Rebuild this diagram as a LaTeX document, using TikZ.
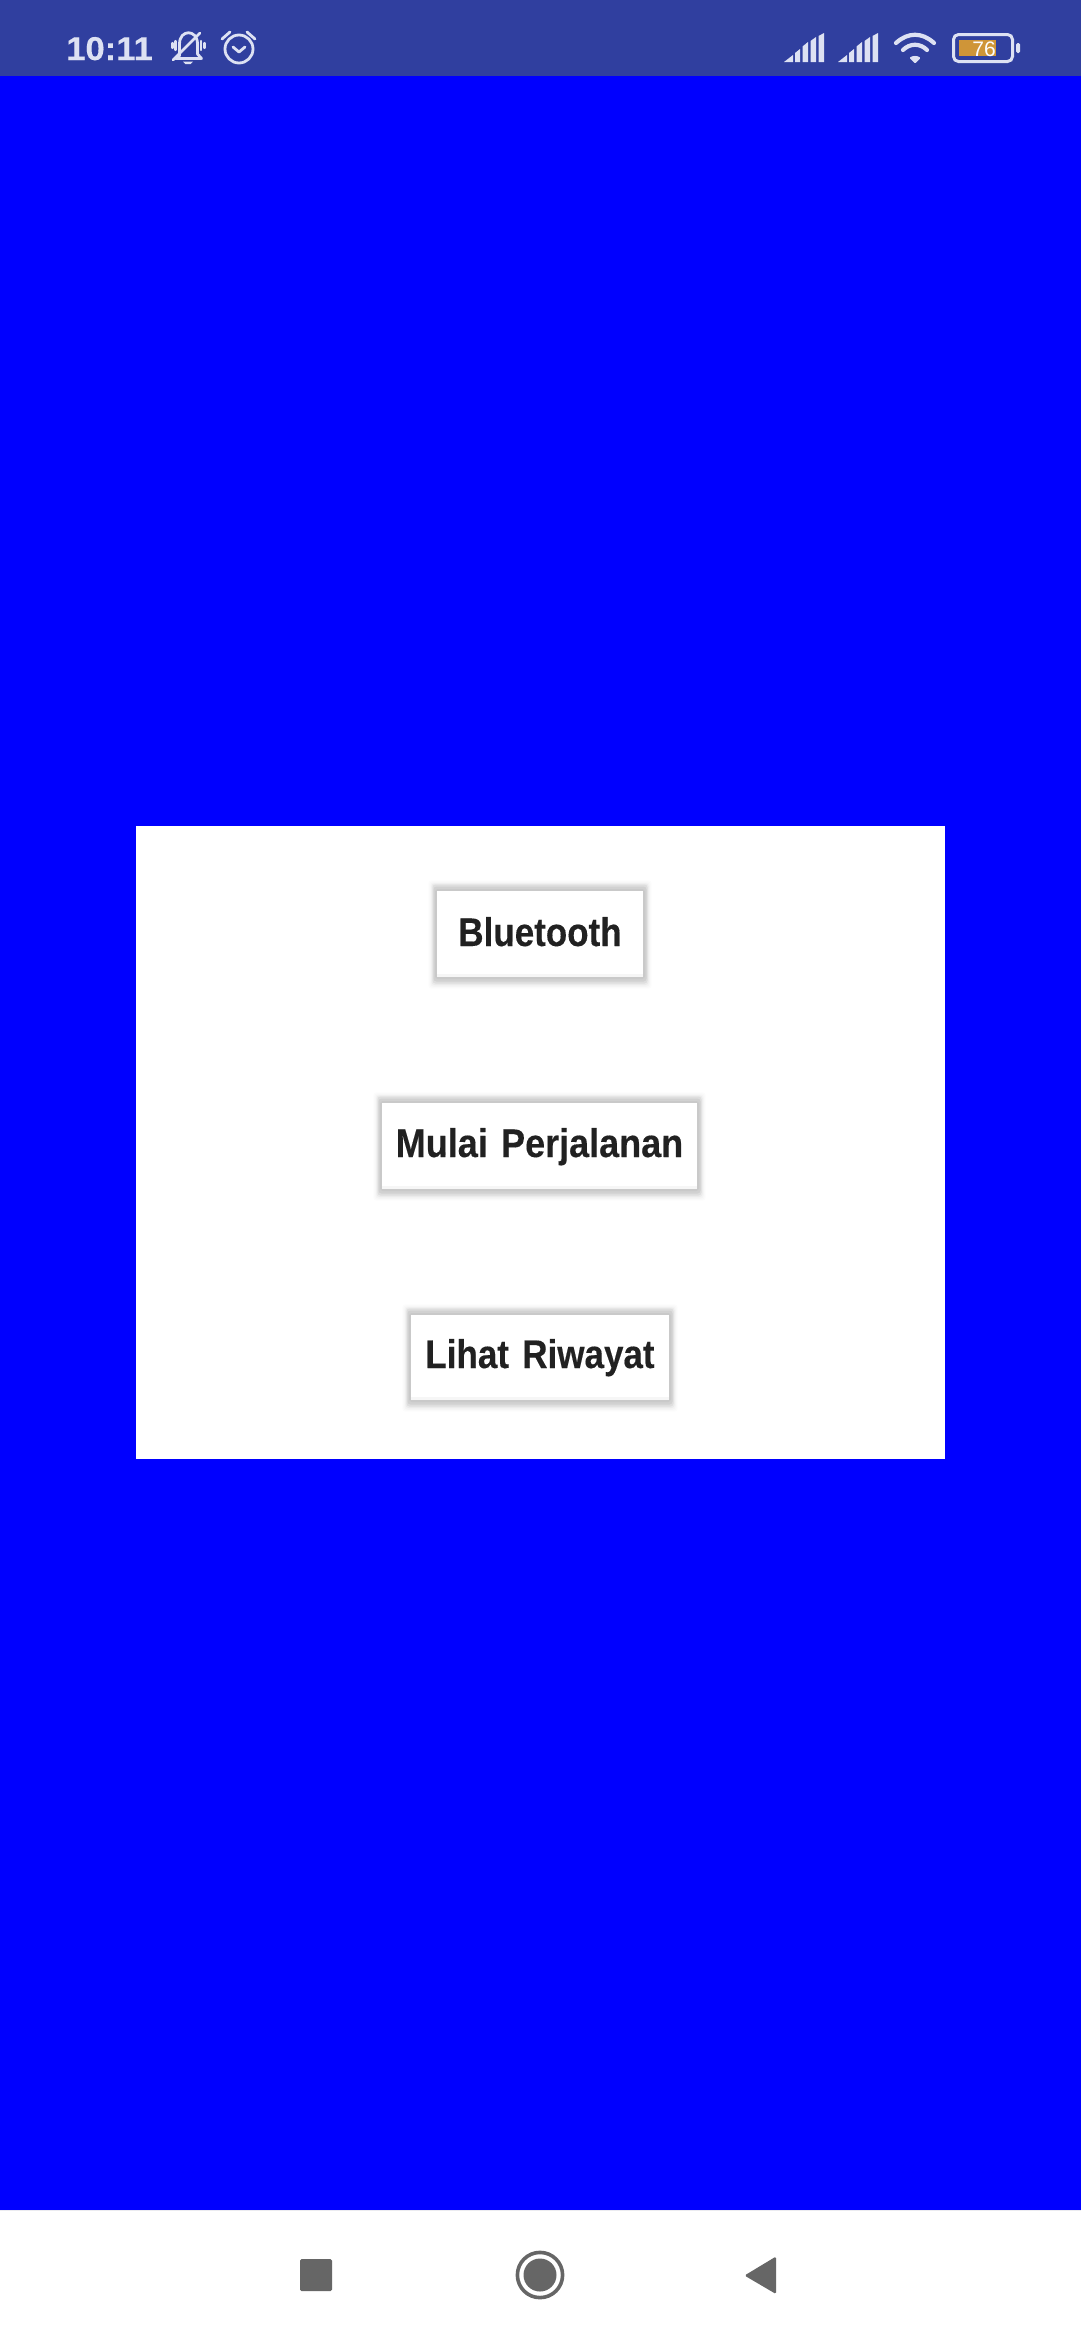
\documentclass[tikz,border=0pt]{standalone}
\usepackage{fontspec}
\setmainfont{Liberation Sans}
\newfontfamily\btnfont[FakeStretch=0.875,FakeBold=0.25]{Liberation Sans Bold}
\newfontfamily\btnwide[FakeStretch=0.9,FakeBold=0.25]{Liberation Sans Bold}
\newfontfamily\statfont[FakeStretch=1.05,FakeBold=0.2]{Liberation Sans Bold}
\definecolor{barblue}{HTML}{303F9F}
\definecolor{pageblue}{HTML}{0000FF}
\definecolor{iconlight}{HTML}{DDE1F3}
\definecolor{navgray}{HTML}{666666}
\definecolor{btntext}{HTML}{212121}
\definecolor{batfill}{HTML}{CF9538}
\definecolor{btnlip}{HTML}{F6F6F6}
\definecolor{navline}{HTML}{EBEBF0}
\tikzset{
  x=1pt,y=-1pt,
  icon/.style={draw=iconlight,line width=2.8pt,line cap=round,line join=round,fill=none},
  navicon/.style={fill=navgray,draw=none},
  btnbox/.style={inner sep=0pt,outer sep=0pt,anchor=base,align=center,text=btntext,
    font=\btnfont\fontsize{40}{40}\selectfont},
  wifiarc/.style={draw=iconlight,line width=4.2pt,line cap=round,fill=none},
}
% #1 name, #2 left, #3 top, #4 right, #5 bottom, #6 baseline, #7 text
\newcommand{\shadowbtn}[7]{%
  \foreach \e/\c/\u/\v in {8.5/1/2/3,7.5/2.5/2/3,6.5/4.5/2/3,5.5/8/2/2.5,4.5/13/2/2,3.5/18/1/1,2/21/0/0}{%
    \fill[black!\c,rounded corners=3pt]
      (#2-\e,#3-\e-\u) rectangle (#4+\e,#5+\e+\v);
  }%
  \pgfmathsetmacro{\btnw}{#4-#2}\pgfmathsetmacro{\btnh}{#6-#3}\pgfmathsetmacro{\btnd}{#5-#6}%
  \pgfmathsetmacro{\btnx}{(#2+#4)/2}%
  \fill[white] (#2,#3) rectangle (#4,#5);
  \fill[btnlip] (#2,#5-3) rectangle (#4,#5);
  \node[btnbox,text width=\btnw pt,text height=\btnh pt,text depth=\btnd pt] (#1) at (\btnx,#6) {#7};
}
\newcommand{\signalbars}[1]{%
  \begin{scope}[shift={(#1,0)}]
    \fill[iconlight] (784,62) -- (793,55) -- (793,62) -- cycle;
    \fill[iconlight] (795,53) -- (800,49) -- (800,62) -- (795,62) -- cycle;
    \fill[iconlight] (802.5,46.5) -- (808,42) -- (808,62) -- (802.5,62) -- cycle;
    \fill[iconlight] (810.5,41) -- (816,37) -- (816,62) -- (810.5,62) -- cycle;
    \fill[iconlight] (818.5,36) -- (824,33) -- (824,62) -- (818.5,62) -- cycle;
  \end{scope}%
}
\begin{document}
\begin{tikzpicture}
\useasboundingbox (0,0) rectangle (1080,2340);
% backgrounds
\fill[pageblue] (-2,-2) rectangle (1082,2342);
\fill[barblue] (-2,-2) rectangle (1082,76);
\fill[white] (-2,2210) rectangle (1082,2342);
\fill[navline] (-2,2210) rectangle (1082,2211);
\fill[white] (136,826) rectangle (945,1459);
% buttons
\shadowbtn{bluetooth}{437}{891}{643}{977}{946}{Bluetooth}
\shadowbtn{mulai}{382}{1103}{697}{1189}{1157}{{\btnwide\fontsize{40}{40}\selectfont Mulai Perjalanan}}
\shadowbtn{lihat}{411}{1315}{669}{1400}{1368}{Lihat Riwayat}
% status bar: time
\node[inner sep=0pt,anchor=base west,text=iconlight,font=\statfont\fontsize{33}{33}\selectfont] (clock) at (66,60) {10:11};
% muted bell
\draw[icon] (179.5,56) -- (179.5,44) .. controls (179.5,29) and (197.5,29) .. (197.5,44) -- (197.5,54) -- (201.5,58.5) -- (175.5,58.5) -- (179.5,56);
\draw[icon] (173,60) -- (200,33);
\draw[icon,line width=2.2pt] (172.5,43) -- (172.5,48);
\draw[icon,line width=2.2pt] (175.5,41) -- (175.5,50);
\draw[icon,line width=2.2pt] (204.5,43) -- (204.5,48);
\draw[icon,line width=2.2pt] (201,41) -- (201,50);
\fill[iconlight] (183,61.5) -- (193,61.5) -- (190.5,64) -- (185.5,64) -- cycle;
% alarm
\draw[icon] (239,49) circle (14pt);
\draw[icon] (222,39) -- (230,32);
\draw[icon] (247,32) -- (255,39);
\draw[icon] (233,47) -- (239,52) -- (245,47);
% signal
\signalbars{0}
\signalbars{54}
% wifi
\draw[wifiarc] (896,43) .. controls (908,32) and (922,32) .. (934,43);
\draw[wifiarc] (903,50) .. controls (910,43) and (920,43) .. (927,50);
\fill[iconlight,rounded corners=1pt] (915,63.5) -- (909.5,58) .. controls (912,55.5) and (918,55.5) .. (920.5,58) -- cycle;
% battery
\draw[draw=iconlight,line width=3pt,rounded corners=5pt] (953.5,34.5) rectangle (1012.5,61.5);
\fill[batfill] (959,40) rectangle (996,56);
\fill[iconlight,rounded corners=1.5pt] (1016,43) rectangle (1020,53);
\node[inner sep=0pt,anchor=base,text=white!90!iconlight,font=\fontsize{21}{21}\selectfont] (level) at (984,56) {76};
% navigation bar
\fill[navicon,rounded corners=1.5pt] (300,2259) rectangle (332,2291);
\draw[navgray,line width=3.6pt] (540,2275) circle (22.6pt);
\fill[navicon] (540,2275) circle (16.5pt);
\fill[navicon,rounded corners=1.5pt] (744.5,2275.5) -- (776,2256.5) -- (776,2294) -- cycle;
\end{tikzpicture}
\end{document}
